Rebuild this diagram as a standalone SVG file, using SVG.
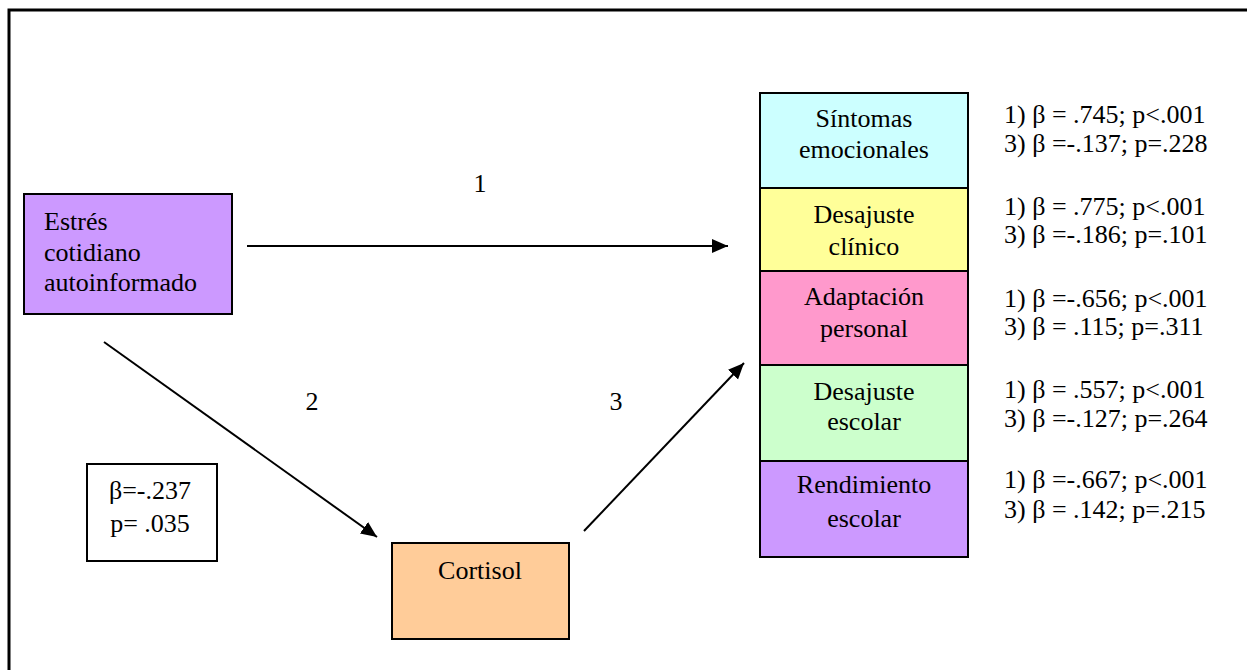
<svg xmlns="http://www.w3.org/2000/svg" width="1247" height="670" viewBox="0 0 1247 670">
  <style>
    text { font-family: "Liberation Serif", "Times New Roman", serif; font-size: 26px; fill: #000; }
    .box { stroke: #000; stroke-width: 2; }
    .mid { text-anchor: middle; }
    .edge { stroke: #000; stroke-width: 2; fill: none; marker-end: url(#head); }
  </style>
  <defs>
    <marker id="head" markerUnits="userSpaceOnUse" markerWidth="17" markerHeight="15" refX="16" refY="7" orient="auto">
      <path d="M0,0 L16,7 L0,14 z" fill="#000"/>
    </marker>
  </defs>
  <rect width="1247" height="670" fill="#fff"/>

  <!-- outer frame (top and left rules) -->
  <path d="M9,670 V10 H1247" fill="none" stroke="#000" stroke-width="3"/>

  <g id="connectors">
    <line class="edge" x1="247" y1="246" x2="728" y2="246"/>
    <line class="edge" x1="104" y1="342" x2="377" y2="537"/>
    <line class="edge" x1="584" y1="531" x2="744" y2="363"/>
    <text class="mid" x="480" y="192">1</text>
    <text class="mid" x="312" y="410">2</text>
    <text class="mid" x="616" y="410">3</text>
  </g>

  <g id="estres">
    <rect class="box" x="24" y="194" width="208" height="120" fill="#CC99FF"/>
    <text x="44" y="230">Estrés</text>
    <text x="44" y="261">cotidiano</text>
    <text x="44" y="291">autoinformado</text>
  </g>

  <g id="coef-2">
    <rect class="box" x="87" y="464" width="130" height="97" fill="#fff"/>
    <text class="mid" x="150" y="499">β=-.237</text>
    <text class="mid" x="150" y="532">p= .035</text>
  </g>

  <g id="cortisol">
    <rect class="box" x="392" y="543" width="177" height="96" fill="#FFCC99"/>
    <text class="mid" x="480" y="579">Cortisol</text>
  </g>

  <g id="sintomas">
    <rect class="box" x="760" y="93" width="208" height="95" fill="#CCFFFF"/>
    <text class="mid" x="864" y="127">Síntomas</text>
    <text class="mid" x="864" y="158">emocionales</text>
  </g>
  <g id="desajuste-clinico">
    <rect class="box" x="760" y="188" width="208" height="83" fill="#FFFF99"/>
    <text class="mid" x="864" y="223">Desajuste</text>
    <text class="mid" x="864" y="255">clínico</text>
  </g>
  <g id="adaptacion">
    <rect class="box" x="760" y="271" width="208" height="94" fill="#FF99CC"/>
    <text class="mid" x="864" y="305">Adaptación</text>
    <text class="mid" x="864" y="337">personal</text>
  </g>
  <g id="desajuste-escolar">
    <rect class="box" x="760" y="365" width="208" height="96" fill="#CCFFCC"/>
    <text class="mid" x="864" y="400">Desajuste</text>
    <text class="mid" x="864" y="430">escolar</text>
  </g>
  <g id="rendimiento">
    <rect class="box" x="760" y="461" width="208" height="96" fill="#CC99FF"/>
    <text class="mid" x="864" y="493">Rendimiento</text>
    <text class="mid" x="864" y="527">escolar</text>
  </g>

  <g id="coefficients">
    <text x="1004" y="123">1) β = .745; p&lt;.001</text>
    <text x="1004" y="152">3) β =-.137; p=.228</text>
    <text x="1004" y="215">1) β = .775; p&lt;.001</text>
    <text x="1004" y="243">3) β =-.186; p=.101</text>
    <text x="1004" y="307">1) β =-.656; p&lt;.001</text>
    <text x="1004" y="335">3) β = .115; p=.311</text>
    <text x="1004" y="398">1) β = .557; p&lt;.001</text>
    <text x="1004" y="427">3) β =-.127; p=.264</text>
    <text x="1004" y="488">1) β =-.667; p&lt;.001</text>
    <text x="1004" y="518">3) β = .142; p=.215</text>
  </g>
</svg>
